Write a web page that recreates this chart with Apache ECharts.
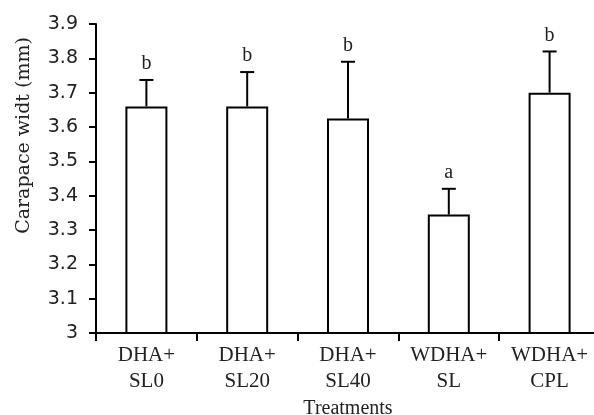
<!DOCTYPE html>
<html>
<head>
<meta charset="utf-8">
<script src="https://cdn.jsdelivr.net/npm/echarts@6/dist/echarts.min.js"></script>
<style>
html,body{margin:0;padding:0;background:#fff;}
#chart{width:594px;height:415px;}
</style>
</head>
<body>
<div id="chart"></div>
<script>
const categories = ['DHA+\nSL0', 'DHA+\nSL20', 'DHA+\nSL40', 'WDHA+\nSL', 'WDHA+\nCPL'];
const means = [3.66, 3.66, 3.625, 3.345, 3.70];
const errors = [0.077, 0.10, 0.165, 0.075, 0.12];
const letters = ['b', 'b', 'b', 'a', 'b'];
const yTitle = 'Carapace widt (mm)';
const xTitle = 'Treatments';

const chart = echarts.init(document.getElementById('chart'), null, {renderer: 'canvas'});
const errData = means.map((m, i) => [i, m, errors[i]]);

chart.setOption({
  animation: false,
  backgroundColor: '#fff',
  grid: {left: 96, top: 24, height: 309, width: 504, containLabel: false, outerBoundsMode: 'none'},
  xAxis: {
    type: 'category',
    data: categories,
    name: xTitle,
    nameLocation: 'middle',
    nameGap: 66,
    nameTextStyle: {fontFamily: 'Liberation Serif', fontSize: 20, color: '#222'},
    axisLine: {show: true, lineStyle: {color: '#000', width: 2}},
    axisTick: {show: true, interval: 0, length: 8, alignWithLabel: false, lineStyle: {color: '#000', width: 2}},
    axisLabel: {interval: 0, margin: 9, fontFamily: 'Liberation Serif', fontSize: 21, lineHeight: 26, color: '#222'},
    splitLine: {show: false}
  },
  yAxis: {
    type: 'value',
    min: 3,
    max: 3.9,
    interval: 0.1,
    name: yTitle,
    nameLocation: 'middle',
    nameGap: 62,
    nameTextStyle: {fontFamily: 'DejaVu Serif', fontSize: 19, color: '#222', padding: [0, 0, 0, 86]},
    axisLine: {show: true, lineStyle: {color: '#000', width: 2}},
    axisTick: {show: true, length: 7, lineStyle: {color: '#000', width: 2}},
    axisLabel: {margin: 18, fontFamily: 'DejaVu Sans', fontSize: 19, color: '#222',
      formatter: v => (Math.abs(v - 3) < 1e-9 ? '3' : v.toFixed(1))},
    splitLine: {show: false}
  },
  series: [
    {
      type: 'bar',
      data: means,
      barWidth: 42,
      itemStyle: {color: '#fff', borderColor: '#000', borderWidth: 2},
      z: 2
    },
    {
      type: 'custom',
      data: errData,
      z: 3,
      renderItem: function (params, api) {
        const x = api.value(0), m = api.value(1), e = api.value(2);
        const base = api.coord([x, m]);
        const top = api.coord([x, m + e]);
        const half = 7;
        return {
          type: 'group',
          children: [
            {type: 'line', shape: {x1: base[0], y1: base[1], x2: top[0], y2: top[1]}, style: {stroke: '#000', lineWidth: 2}},
            {type: 'line', shape: {x1: top[0] - half, y1: top[1], x2: top[0] + half, y2: top[1]}, style: {stroke: '#000', lineWidth: 2}},
            {type: 'text', style: {text: letters[params.dataIndex], x: top[0], y: top[1] - 6, align: 'center', verticalAlign: 'bottom', fontFamily: 'Liberation Serif', fontSize: 20, fill: '#222'}}
          ]
        };
      }
    }
  ]
});
</script>
</body>
</html>
